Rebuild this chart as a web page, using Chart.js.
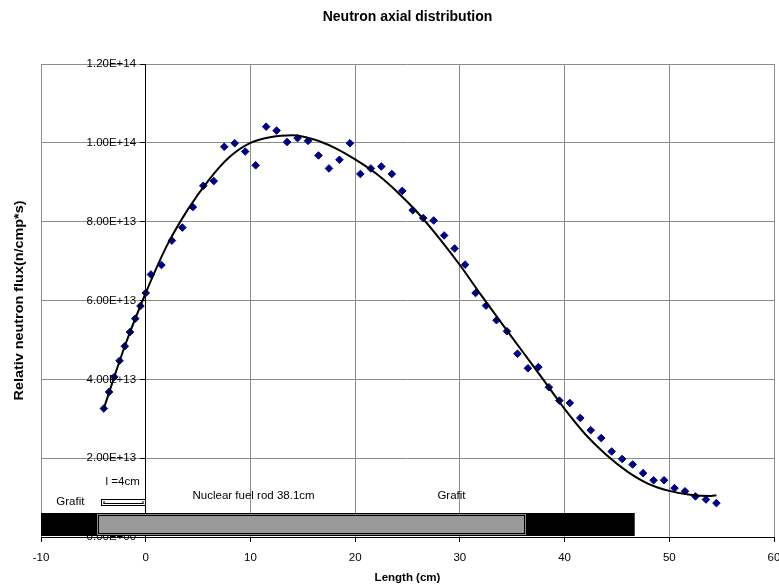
<!DOCTYPE html>
<html>
<head>
<meta charset="utf-8">
<script src="https://cdn.jsdelivr.net/npm/chart.js@4.4.0/dist/chart.umd.min.js"></script>
<style>
  html, body { margin: 0; padding: 0; background: #fff; }
  #wrap { width: 779px; height: 588px; position: relative; }
</style>
</head>
<body>
<div id="wrap"><canvas id="fluxChart"></canvas></div>
<script>
// measured points along the rod (cm) and relative flux
const lengthCm = [
  -4, -3.5, -3, -2.5, -2, -1.5, -1, -0.5, 0, 0.5,
  1.5, 2.5, 3.5, 4.5, 5.5, 6.5, 7.5, 8.5, 9.5, 10.5,
  11.5, 12.5, 13.5, 14.5, 15.5, 16.5, 17.5, 18.5, 19.5, 20.5,
  21.5, 22.5, 23.5, 24.5, 25.5, 26.5, 27.5, 28.5, 29.5, 30.5,
  31.5, 32.5, 33.5, 34.5, 35.5, 36.5, 37.5, 38.5, 39.5, 40.5,
  41.5, 42.5, 43.5, 44.5, 45.5, 46.5, 47.5, 48.5, 49.5, 50.5,
  51.5, 52.5, 53.5, 54.5
];
const fluxMeasured = [
  3.26e13, 3.68e13, 4.06e13, 4.47e13, 4.84e13, 5.20e13, 5.54e13, 5.86e13, 6.19e13, 6.66e13,
  6.90e13, 7.52e13, 7.85e13, 8.37e13, 8.91e13, 9.03e13, 9.90e13, 9.99e13, 9.78e13, 9.43e13,
  10.41e13, 10.31e13, 10.02e13, 10.12e13, 10.05e13, 9.68e13, 9.35e13, 9.57e13, 9.99e13, 9.21e13,
  9.35e13, 9.40e13, 9.21e13, 8.78e13, 8.29e13, 8.09e13, 8.03e13, 7.65e13, 7.32e13, 6.91e13,
  6.19e13, 5.87e13, 5.50e13, 5.22e13, 4.65e13, 4.28e13, 4.31e13, 3.80e13, 3.46e13, 3.40e13,
  3.02e13, 2.71e13, 2.51e13, 2.17e13, 1.98e13, 1.84e13, 1.62e13, 1.44e13, 1.44e13, 1.24e13,
  1.16e13, 1.03e13, 0.95e13, 0.86e13
];

// trend line
const trendLength = [-4, -2, 0, 2, 4, 6, 8, 10, 12, 14, 16, 18, 20, 22, 24, 26, 28, 30,
  32, 34, 36, 38, 40, 42, 44, 46, 48, 50, 52, 54, 54.5];
const trendFlux = [
  3.26e13, 4.84e13, 6.19e13, 7.38e13, 8.30e13, 9.05e13, 9.64e13, 10.00e13, 10.15e13, 10.19e13,
  10.09e13, 9.88e13, 9.58e13, 9.22e13, 8.76e13, 8.22e13, 7.59e13, 6.90e13, 6.15e13, 5.42e13,
  4.70e13, 3.98e13, 3.25e13, 2.60e13, 2.08e13, 1.66e13, 1.35e13, 1.17e13, 1.07e13, 1.04e13, 1.06e13
];

const FONT = '"Liberation Sans", Arial, sans-serif';
Chart.defaults.font.family = FONT;
Chart.defaults.color = '#000';

// Excel style 1.20E+14, trailing spaces keep the label off the axis line
function sciLabel(v) {
  const parts = Number(v).toExponential(2).split('e');
  const exp = Number(parts[1]);
  return parts[0] + 'E' + (exp < 0 ? '-' : '+') + String(Math.abs(exp)).padStart(2, '0') + '   ';
}

// fuel rod sketch under the curve + rotated y title
const rodPlugin = {
  id: 'rodSketch',
  afterDraw(chart) {
    const ctx = chart.ctx;
    const xs = chart.scales.x, ys = chart.scales.y;
    const px = v => xs.getPixelForValue(v);
    const py = v => ys.getPixelForValue(v);
    ctx.save();

    // graphite block
    const top = Math.round(py(0.61e13));
    const bot = Math.round(py(0)) - 1;
    ctx.fillStyle = '#000';
    ctx.fillRect(px(-10), top, px(46.7) - px(-10), bot - top);

    // fuel rod
    const l = Math.round(px(-4.7)), r = Math.round(px(36.4));
    ctx.strokeStyle = '#8a8a8a';
    ctx.lineWidth = 1;
    ctx.strokeRect(l + 1.5, top + 1.5, r - l - 3, bot - top - 3);
    ctx.fillStyle = '#999999';
    ctx.fillRect(l + 3, top + 3, r - l - 6, bot - top - 6);

    // l = 4cm marker
    const bl = Math.round(px(-4.3)) + 0.5, br = Math.round(px(-0.1)) + 0.5;
    const bt = Math.round(py(0.96e13)) + 0.5, bb = Math.round(py(0.81e13)) + 0.5;
    ctx.fillStyle = '#fff';
    ctx.fillRect(bl, bt, br - bl, bb - bt);
    ctx.strokeStyle = '#000';
    ctx.strokeRect(bl, bt, br - bl, bb - bt);
    const my = Math.round((bt + bb) / 2) + 0.5;
    ctx.beginPath();
    ctx.moveTo(bl + 2, my); ctx.lineTo(br - 2, my);
    ctx.moveTo(bl + 2.5, bt + 1.5); ctx.lineTo(bl + 2.5, bb - 1.5);
    ctx.moveTo(br - 2.5, bt + 1.5); ctx.lineTo(br - 2.5, bb - 1.5);
    ctx.stroke();

    // labels
    ctx.fillStyle = '#000';
    ctx.font = '11.5px ' + FONT;
    ctx.textAlign = 'center';
    ctx.textBaseline = 'middle';
    ctx.fillText('l =4cm', px(-2.2), py(1.39e13));
    ctx.fillText('Grafit', px(-7.2), py(0.89e13));
    ctx.fillText('Nuclear fuel rod 38.1cm', px(10.3), py(1.04e13));
    ctx.fillText('Grafit', px(29.2), py(1.04e13));

    // y axis title
    ctx.translate(20, (chart.chartArea.top + chart.chartArea.bottom) / 2);
    ctx.rotate(-Math.PI / 2);
    ctx.scale(1.2, 1);
    ctx.font = 'bold 12px ' + FONT;
    ctx.fillText('Relativ neutron flux(n/cmp*s)', 0, 0);
    ctx.restore();
  }
};

const gridColor = c => (c.tick && c.tick.value === 0 ? '#000' : '#8c8c8c');

new Chart(document.getElementById('fluxChart'), {
  type: 'scatter',
  data: {
    datasets: [
      {
        label: 'Trend',
        type: 'line',
        data: trendLength.map((x, i) => ({ x: x, y: trendFlux[i] })),
        borderColor: '#000',
        borderWidth: 2,
        pointRadius: 0,
        fill: false,
        cubicInterpolationMode: 'monotone'
      },
      {
        label: 'Measured',
        data: lengthCm.map((x, i) => ({ x: x, y: fluxMeasured[i] })),
        pointStyle: 'rectRot',
        pointRadius: 3.8,
        backgroundColor: '#000080',
        borderColor: '#000080',
        borderWidth: 1
      }
    ]
  },
  options: {
    responsive: true,
    maintainAspectRatio: false,
    animation: false,
    layout: { padding: { left: 41, right: 4, top: 0, bottom: 0 } },
    plugins: {
      legend: { display: false },
      tooltip: { enabled: false },
      title: {
        display: true,
        text: 'Neutron axial distribution',
        fullSize: false,
        color: '#000',
        font: { size: 14, weight: 'bold' },
        padding: { top: 9, bottom: 38.2 }
      }
    },
    scales: {
      x: {
        type: 'linear',
        position: 'bottom',
        min: -10,
        max: 60,
        ticks: { stepSize: 10, font: { size: 11.5 }, padding: 9, maxRotation: 0 },
        grid: { color: gridColor, tickColor: '#000', tickLength: 5 },
        border: { color: '#000' },
        title: {
          display: true,
          text: 'Length (cm)',
          font: { size: 11.5, weight: 'bold' },
          padding: { top: 0, bottom: 3 }
        },
        afterFit: s => { s.height = 51; s.paddingLeft = 0; s.paddingRight = 0; }
      },
      y: {
        type: 'linear',
        position: { x: 0 },
        min: 0,
        max: 1.2e14,
        ticks: { stepSize: 2e13, font: { size: 11.5 }, padding: 5, callback: sciLabel },
        grid: { color: gridColor, tickColor: '#000', tickLength: 5 },
        border: { color: '#000' }
      }
    }
  },
  plugins: [rodPlugin]
});
</script>
</body>
</html>
